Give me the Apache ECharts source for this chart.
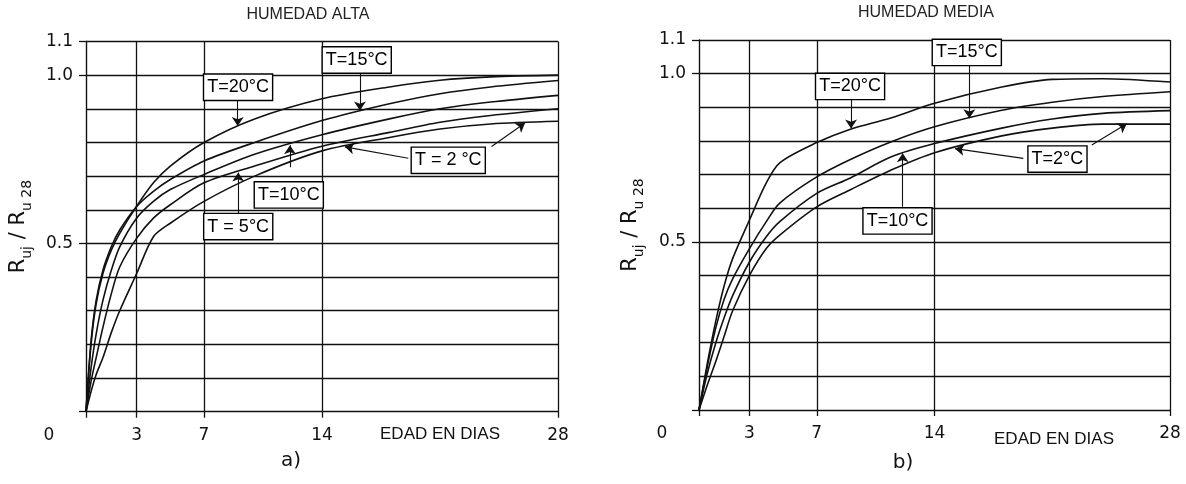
<!DOCTYPE html>
<html>
<head>
<meta charset="utf-8">
<script src="https://cdn.jsdelivr.net/npm/echarts@6/dist/echarts.min.js"></script>
<style>
html,body{margin:0;padding:0;background:#fff;}
#c{width:1186px;height:484px;}
</style>
</head>
<body>
<div id="c"></div>
<script>
// ---------- data ----------
const daysAlta = [0, 0.3, 0.6, 1, 1.5, 2, 3, 4, 5, 7, 10, 14, 18, 21, 24, 28];
const alta20 = [0, 0.20, 0.32, 0.41, 0.48, 0.53, 0.61, 0.68, 0.73, 0.80, 0.87, 0.93, 0.965, 0.985, 0.995, 1.0];
const alta15 = [0, 0.21, 0.33, 0.42, 0.49, 0.54, 0.61, 0.655, 0.69, 0.745, 0.80, 0.865, 0.915, 0.945, 0.965, 0.984];
const alta10 = [0, 0.13, 0.23, 0.33, 0.42, 0.49, 0.575, 0.625, 0.66, 0.705, 0.765, 0.823, 0.87, 0.90, 0.92, 0.94];
const alta5  = [0, 0.09, 0.16, 0.25, 0.35, 0.43, 0.515, 0.575, 0.615, 0.68, 0.73, 0.789, 0.83, 0.86, 0.88, 0.90];
const alta2  = [0, 0.06, 0.11, 0.16, 0.235, 0.30, 0.41, 0.52, 0.56, 0.625, 0.70, 0.775, 0.815, 0.84, 0.855, 0.863];

const daysMedia = [0, 0.5, 1, 1.5, 2, 3, 4, 4.8, 7, 9, 11.4, 14, 18, 21, 24, 28];
const media20 = [0, 0.14, 0.265, 0.37, 0.45, 0.565, 0.675, 0.735, 0.795, 0.835, 0.868, 0.912, 0.96, 0.983, 0.985, 0.975];
const media15 = [0, 0.13, 0.245, 0.33, 0.39, 0.48, 0.56, 0.615, 0.693, 0.745, 0.797, 0.842, 0.891, 0.915, 0.932, 0.946];
const media10 = [0, 0.11, 0.20, 0.275, 0.34, 0.44, 0.515, 0.56, 0.644, 0.69, 0.752, 0.792, 0.838, 0.865, 0.882, 0.89];
const media2  = [0, 0.075, 0.145, 0.22, 0.295, 0.40, 0.48, 0.52, 0.604, 0.655, 0.713, 0.765, 0.815, 0.838, 0.85, 0.85];

const xTickValues = [0, 3, 7, 14, 28];
const xGridValues = [3, 7, 14, 28];
const yGridValues = [0.1, 0.2, 0.3, 0.4, 0.5, 0.6, 0.7, 0.8, 0.9, 1.0, 1.1];
const yLabelValues = [0.5, 1.0, 1.1];
const yTickValues = [0, 0.5, 1.0, 1.1];

const titles = ['HUMEDAD ALTA', 'HUMEDAD MEDIA'];
const xName = 'EDAD EN DIAS';
const panelTags = ['a)', 'b)'];

// annotation boxes: [day, ratio, text]
const boxesAlta = [[9.02, 0.964, 'T=20°C'], [16.06, 1.045, 'T=15°C'], [12.03, 0.644, 'T=10°C'], [9.03, 0.55, 'T = 5°C'], [21.49, 0.747, 'T = 2 °C']];
const boxesMedia = [[8.98, 0.962, 'T=20°C'], [15.92, 1.063, 'T=15°C'], [11.8, 0.562, 'T=10°C'], [21.31, 0.746, 'T=2°C']];
// arrows: [[fromDay, fromRatio], [toDay, toRatio]]
const arrowsAlta = [
  [[9.0, 0.927], [9.0, 0.849]],
  [[16.25, 1.011], [16.25, 0.895]],
  [[12.1, 0.726], [12.1, 0.792]],
  [[9.03, 0.582], [9.03, 0.711]],
  [[19.12, 0.753], [15.36, 0.787]],
  [[24.06, 0.788], [26.04, 0.858]]
];
const arrowsMedia = [
  [[9.04, 0.922], [9.04, 0.837]],
  [[16.07, 1.026], [16.07, 0.867]],
  [[12.11, 0.604], [12.11, 0.763]],
  [[19.28, 0.748], [15.22, 0.777]],
  [[23.35, 0.788], [25.43, 0.851]]
];

// ---------- chart ----------
const INK = '#111';
const chart = echarts.init(document.getElementById('c'), null, {renderer: 'canvas'});

function pairs(days, vals) { return days.map((d, i) => [d, vals[i]]); }

function xAxisFor(gi) {
  return {
    type: 'value', gridIndex: gi, min: 0, max: 28,
    axisLine: {show: true, onZero: false, lineStyle: {color: INK, width: 1.4}},
    axisTick: {show: true, customValues: xTickValues, length: 6, lineStyle: {color: INK, width: 1.3}},
    axisLabel: {
      customValues: xTickValues, color: INK, fontFamily: 'DejaVu Sans', fontSize: 17, margin: 15,
      formatter: v => v === 0 ? '{z|0}' : String(v),
      rich: {z: {padding: [0, 74, 0, 0], color: INK, fontFamily: 'DejaVu Sans', fontSize: 17}}
    },
    splitLine: {show: false}
  };
}
function yAxisFor(gi, gap) {
  return {
    type: 'value', gridIndex: gi, min: 0, max: 1.1, interval: 0.1,
    axisLine: {show: true, onZero: false, lineStyle: {color: INK, width: 1.4}},
    axisTick: {show: true, customValues: yTickValues, length: 7, lineStyle: {color: INK, width: 1.3}},
    axisLabel: {customValues: yLabelValues, color: INK, fontFamily: 'DejaVu Sans', fontSize: 17, margin: 13,
      padding: [6, 0, 0, 0], formatter: v => Number(v).toFixed(1)},
    splitLine: {show: false},
    name: '{r|R}{s|uj}{r| / R}{s|u 28}',
    nameLocation: 'middle', nameRotate: 90, nameGap: gap,
    nameTextStyle: {
      color: INK,
      rich: {
        r: {fontFamily: 'DejaVu Sans', fontSize: 21, color: INK, lineHeight: 26, verticalAlign: 'top'},
        s: {fontFamily: 'DejaVu Sans', fontSize: 14, color: INK, lineHeight: 16, verticalAlign: 'bottom'}
      }
    }
  };
}

function curve(gi, name, days, vals) {
  return {
    type: 'line', name: name, xAxisIndex: gi, yAxisIndex: gi,
    data: pairs(days, vals), showSymbol: false, smooth: 0.3,
    lineStyle: {color: INK, width: 1.6}, z: 3, silent: true
  };
}
function gridLines(gi) {
  return {
    type: 'line', xAxisIndex: gi, yAxisIndex: gi, data: [], silent: true,
    markLine: {
      silent: true, symbol: ['none', 'none'], animation: false,
      label: {show: false},
      lineStyle: {color: INK, width: 1.3, type: 'solid'},
      data: xGridValues.map(v => ({xAxis: v})).concat(yGridValues.map(v => ({yAxis: v})))
    }
  };
}
function boxes(gi, list) {
  return {
    type: 'scatter', xAxisIndex: gi, yAxisIndex: gi, symbolSize: 0, z: 10, silent: true,
    itemStyle: {opacity: 1, color: INK},
    data: list.map(b => ({value: [b[0], b[1], b[2]]})),
    label: {
      show: true, position: 'inside', formatter: p => p.value[2], opacity: 1,
      color: '#000', fontFamily: 'Liberation Sans', fontSize: 18, lineHeight: 20,
      backgroundColor: '#fff', borderColor: '#000', borderWidth: 1.4, padding: [3, 3, 2, 3]
    }
  };
}
function arrows(gi, list) {
  return {
    type: 'lines', coordinateSystem: 'cartesian2d', xAxisIndex: gi, yAxisIndex: gi, z: 9, silent: true,
    symbol: ['none', 'arrow'], symbolSize: [5, 9],
    lineStyle: {color: INK, width: 1.1, opacity: 1},
    data: list.map(a => ({coords: a}))
  };
}

const option = {
  animation: false,
  backgroundColor: '#fff',
  grid: [
    {left: 86, top: 41.5, width: 472, height: 370.2},
    {left: 699, top: 40, width: 471, height: 370}
  ],
  xAxis: [xAxisFor(0), xAxisFor(1)],
  yAxis: [yAxisFor(0, 52), yAxisFor(1, 53)],
  series: [
    gridLines(0), gridLines(1),
    curve(0, 'T=20°C', daysAlta, alta20),
    curve(0, 'T=15°C', daysAlta, alta15),
    curve(0, 'T=10°C', daysAlta, alta10),
    curve(0, 'T=5°C', daysAlta, alta5),
    curve(0, 'T=2°C', daysAlta, alta2),
    curve(1, 'T=20°C', daysMedia, media20),
    curve(1, 'T=15°C', daysMedia, media15),
    curve(1, 'T=10°C', daysMedia, media10),
    curve(1, 'T=2°C', daysMedia, media2),
    arrows(0, arrowsAlta), arrows(1, arrowsMedia),
    boxes(0, boxesAlta), boxes(1, boxesMedia)
  ],
  graphic: [
    {type: 'text', x: 308, y: 15, style: {text: titles[0], fill: '#222', font: '16px "Liberation Sans"', align: 'center', verticalAlign: 'middle'}},
    {type: 'text', x: 926, y: 13, style: {text: titles[1], fill: '#222', font: '16px "Liberation Sans"', align: 'center', verticalAlign: 'middle'}},
    {type: 'text', x: 440, y: 434, style: {text: xName, fill: INK, font: '17px "Liberation Sans"', align: 'center', verticalAlign: 'middle'}},
    {type: 'text', x: 1054, y: 439, style: {text: xName, fill: INK, font: '17px "Liberation Sans"', align: 'center', verticalAlign: 'middle'}},
    {type: 'text', x: 291, y: 461, style: {text: panelTags[0], fill: INK, font: '20px "DejaVu Sans"', align: 'center', verticalAlign: 'middle'}},
    {type: 'text', x: 903, y: 463, style: {text: panelTags[1], fill: INK, font: '20px "DejaVu Sans"', align: 'center', verticalAlign: 'middle'}}
  ]
};
chart.setOption(option);
</script>
</body>
</html>
